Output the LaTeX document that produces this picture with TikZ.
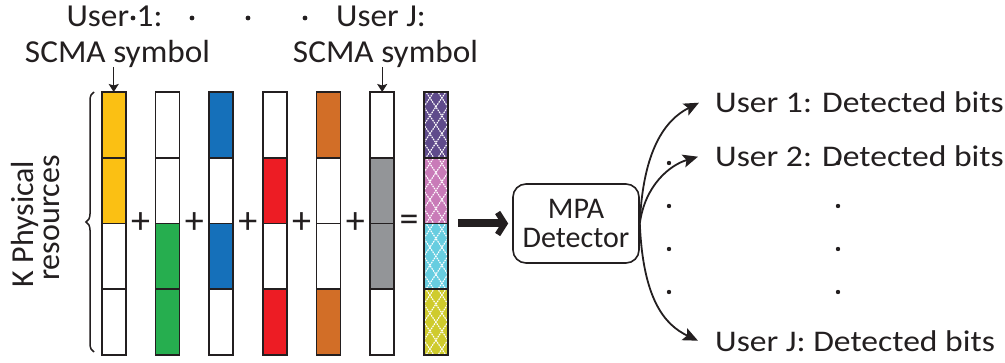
\documentclass[tikz,border=0pt]{standalone}
\usepackage{fontspec}
\setmainfont{Carlito}
\newfontfamily\lblfont{Carlito}[FakeStretch=1.12]
\newfontfamily\topfont{Carlito}[FakeStretch=1.04]
\usetikzlibrary{arrows.meta,decorations.pathreplacing}
\definecolor{yel}{HTML}{FBC013}
\definecolor{grn}{HTML}{26AE4F}
\definecolor{blu}{HTML}{1570BA}
\definecolor{rd}{HTML}{ED1C24}
\definecolor{org}{HTML}{D26E27}
\definecolor{gry}{HTML}{939598}
\definecolor{pur}{HTML}{5F4B8B}
\definecolor{pnk}{HTML}{C97BB8}
\definecolor{cyn}{HTML}{67CDE0}
\definecolor{ylg}{HTML}{CFCB2D}
\definecolor{ink}{HTML}{231F20}
\begin{document}
\begin{tikzpicture}[x=1pt,y=1pt,
  cell/.style={draw=ink, line width=1.7pt, minimum width=24pt, minimum height=65.75pt, inner sep=0pt, outer sep=0pt},
  hatched/.style={cell, path picture={
     \foreach \k in {-5,...,5}{
       \draw[white, line width=1.1pt, dash pattern=on 1.6pt off 0.9pt]
         ([xshift=\k*12pt-24pt, yshift=-36pt]path picture bounding box.center) -- ++(48pt,72pt);
       \draw[white, line width=1.1pt, dash pattern=on 1.6pt off 0.9pt]
         ([xshift=\k*12pt+24pt, yshift=-36pt]path picture bounding box.center) -- ++(-48pt,72pt);
     }}},
  lbl/.style={font=\lblfont\fontsize{30}{34}\selectfont, text=ink, inner sep=0pt},
  toplbl/.style={font=\topfont\fontsize{32}{36}\selectfont, text=ink, inner sep=0pt, anchor=base},
  sidelbl/.style={font=\fontsize{32}{36}\selectfont, text=ink, inner sep=0pt, anchor=base, rotate=90},
  opsign/.style={font=\fontsize{38}{40}\selectfont, text=ink, inner sep=0pt},
  smallarrow/.style={draw=ink, line width=1.4pt, -{Stealth[length=8pt,width=10pt,inset=1.5pt]}},
  curvearrow/.style={draw=ink, line width=1.8pt, -{Stealth[length=15pt,width=13pt,inset=3pt]}},
  thickarrow/.style={draw=ink, line width=8pt, -{Straight Barb[length=7pt,width=22pt,line width=6pt]}},
  edot/.style={fill=ink}
]
\useasboundingbox (0,0) rectangle (1005,362);

% columns of resource cells
\foreach \i/\a/\b/\c/\d in {0/yel/yel/white/white, 1/white/white/grn/grn, 2/blu/white/blu/white,
                            3/white/rd/white/rd, 4/org/white/white/org, 5/white/gry/gry/white}{
  \pgfmathsetmacro{\cx}{113.7+53.7*\i}
  \node[cell, fill=\a] (c\i-0) at (\cx, 237.125) {};
  \node[cell, fill=\b] (c\i-1) at (\cx, 171.375) {};
  \node[cell, fill=\c] (c\i-2) at (\cx, 105.625) {};
  \node[cell, fill=\d] (c\i-3) at (\cx, 39.875) {};
}
\node[hatched, fill=pur] (c6-0) at (435.9, 237.125) {};
\node[hatched, fill=pnk] (c6-1) at (435.9, 171.375) {};
\node[hatched, fill=cyn] (c6-2) at (435.9, 105.625) {};
\node[hatched, fill=ylg] (c6-3) at (435.9, 39.875) {};

% plus and equal signs
\foreach \i in {0,...,4}{
  \node[opsign] (plus\i) at ({140.55+53.7*\i}, 139) {+};
}
\node[opsign] (eq) at (409.05, 139) {=};

% brace and side label
\draw[draw=ink, line width=1.5pt, decorate, decoration={brace, amplitude=8pt}] (94,10) -- (94,270);
\node[sidelbl] (kphys) at (33,138) {K Physical};
\node[sidelbl] (kres) at (59,144) {resources};

% top labels
\node[toplbl] (lab1a) at (114.5,335) {User 1:};
\node[toplbl] (lab1b) at (117.5,299) {SCMA symbol};
\node[toplbl] (labJa) at (381,335) {User J:};
\node[toplbl] (labJb) at (385.5,299) {SCMA symbol};
\foreach \x in {133,192,248,305}{ \fill[edot] (\x,344) circle (2.4pt); }
\coordinate (a1) at ([yshift=-4pt]lab1b.base);
\coordinate (aJ) at ([yshift=-4pt]labJb.base);
\draw[smallarrow] (a1 -| c0-0.north) -- (c0-0.north);
\draw[smallarrow] (aJ -| c5-0.north) -- (c5-0.north);

% detector
\node[draw=ink, line width=1.6pt, rounded corners=13pt, minimum width=126pt, minimum height=79pt,
      inner sep=0pt, align=center, font=\fontsize{30}{29}\selectfont, text=ink] (mpa) at (576,138.5) {MPA\\Detector};
\draw[thickarrow, shorten <=10pt, shorten >=4pt] (c6-2.north east) -- (mpa.west);

% outputs
\node[lbl, anchor=base west] (u1) at (715,249) {User 1: Detected bits};
\node[lbl, anchor=base west] (u2) at (715,195) {User 2: Detected bits};
\node[lbl, anchor=base west] (uJ) at (715,11) {User J: Detected bits};
\coordinate (t1) at ([xshift=-16pt]u1.west);
\coordinate (t2) at ([xshift=-17pt]u2.west);
\coordinate (tJ) at ([xshift=-17pt]uJ.west);
\draw[curvearrow] (mpa.east) .. controls (643,212) and (665,242) .. (t1);
\draw[curvearrow] (mpa.east) .. controls (645,177) and (670,197) .. (t2);
\draw[curvearrow] (mpa.east) .. controls (643,62) and (665,37) .. (tJ);

\foreach \y in {199,156,113,70}{
  \fill[edot] (669,\y) circle (2.2pt);
  \fill[edot] (838,\y) circle (2.2pt);
}
\end{tikzpicture}
\end{document}
